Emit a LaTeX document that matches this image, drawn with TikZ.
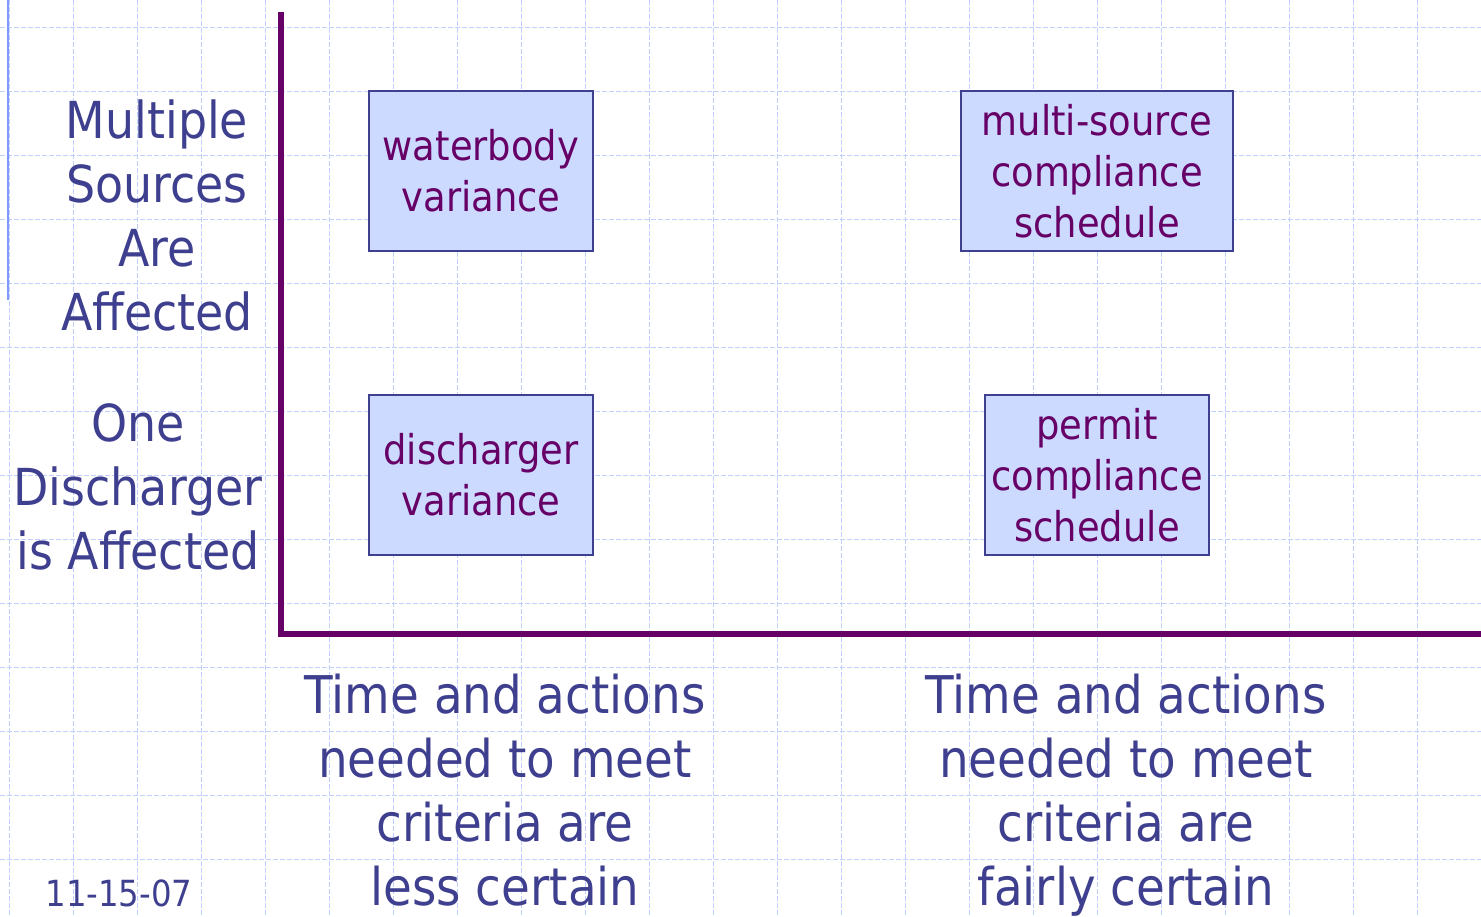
\documentclass[tikz,border=0pt]{standalone}
\usepackage{fontspec}
\setmainfont{DejaVu Sans}[FakeStretch=0.9]
\usetikzlibrary{positioning}
\definecolor{axispurple}{HTML}{660066}
\definecolor{labelblue}{HTML}{3F3F8F}
\definecolor{boxfill}{HTML}{CCDAFF}
\definecolor{gridblue}{HTML}{BFD0FF}
\definecolor{railblue}{HTML}{7F99FF}

\begin{document}
\begin{tikzpicture}[x=1pt,y=-1pt,
   axis/.style={draw=axispurple,line width=6.5pt},
   rowlabel/.style={text=labelblue,align=center,font=\fontsize{51}{64}\selectfont},
   collabel/.style={text=labelblue,align=center,anchor=north,inner sep=0pt,
      font=\fontsize{52}{64}\selectfont},
   cell/.style={draw=labelblue,line width=1.5pt,fill=boxfill,text=axispurple,
      align=center,minimum width=224pt,minimum height=160pt,inner sep=2pt,
      font=\fontsize{41}{51}\selectfont}]
   \useasboundingbox (0,0) rectangle (1481,916);
   % background grid
   \foreach \gx in {9,73,...,1481}
      \draw[gridblue,line width=1pt,dash pattern=on 5pt off 2pt] (\gx,0) -- (\gx,916);
   \foreach \gy in {27,91,...,916}
      \draw[gridblue,line width=1pt,dash pattern=on 5pt off 2pt] (0,\gy) -- (1481,\gy);
   \draw[railblue,line width=2pt] (8,0) -- (8,300);
   % axes
   \coordinate (top) at (281,12);
   \coordinate (corner) at (281,634);
   \coordinate (far) at (1481,634);
   \draw[axis] (top) -- (corner);
   \draw[axis] ([xshift=-3pt]corner) -- (far);
   % rows
   \node[rowlabel] (multi) at (157,215) {Multiple\\Sources\\Are\\Affected};
   \node[rowlabel] (one) at (138,487) {One\\Discharger\\is Affected};
   % cells
   \node[cell] (wbv) at (481,171) {waterbody\\variance};
   \node[cell] (dv) at (481,475) {discharger\\variance};
   \node[cell,minimum width=272pt] (mscs) at (1097,171) {multi-source\\compliance\\schedule};
   \node[cell] (pcs) at (1097,475) {permit\\compliance\\schedule};
   % columns
   \node[collabel] (less) at (505,674) {Time and actions\\needed to meet\\criteria are\\less certain};
   \node[collabel] (fairly) at (1126,674) {Time and actions\\needed to meet\\criteria are\\fairly certain};
   \node[text=labelblue,font=\fontsize{36}{40}\selectfont] (date) at (119,893) {11-15-07};
\end{tikzpicture}
\end{document}
